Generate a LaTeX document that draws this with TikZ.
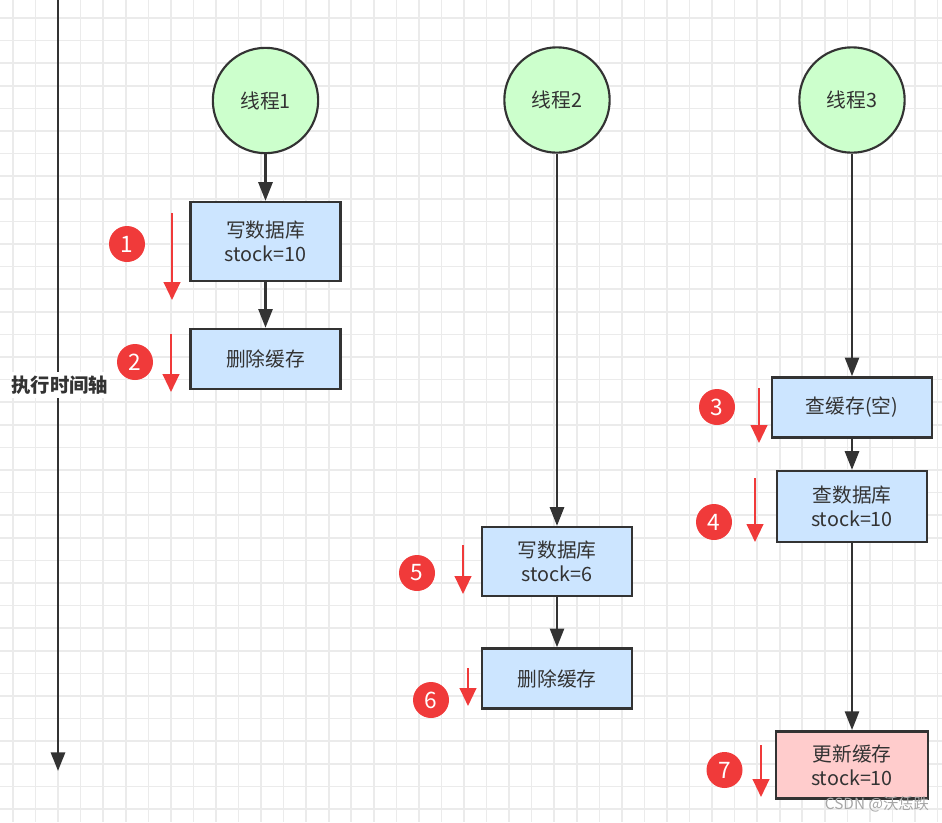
\documentclass[tikz,border=0pt]{standalone}
\usepackage{fontspec}
\setmainfont{Noto Sans CJK SC}
\usepackage{xcolor}
\usepackage{tikz}
\usetikzlibrary{arrows.meta}

\definecolor{gridgray}{HTML}{EBEBEB}
\definecolor{linedark}{HTML}{333333}
\definecolor{threadgreen}{HTML}{CCFFCC}
\definecolor{stepblue}{HTML}{CCE5FF}
\definecolor{steppink}{HTML}{FFCCCC}
\definecolor{markred}{HTML}{F03A3A}

\begin{document}
\begin{tikzpicture}[x=0.75pt, y=-0.75pt,
    txt/.style={font=\fontsize{14.8pt}{18pt}\selectfont, text=linedark},
    thread/.style={txt, circle, draw=linedark, line width=1.6pt, fill=threadgreen, minimum size=79pt, inner sep=0pt},
    op/.style={txt, rectangle, draw=linedark, line width=1.9pt, fill=stepblue, minimum width=112.5pt, minimum height=45pt, align=center, inner sep=2pt},
    flow/.style={-{Triangle[width=10.5pt, length=14pt]}, line width=1.9pt, draw=linedark},
    num/.style={circle, fill=markred, minimum size=27pt, inner sep=0pt, text=white, font=\fontsize{17pt}{18pt}\selectfont},
    cue/.style={-{Triangle[width=12.5pt, length=13.5pt]}, line width=1.6pt, draw=markred}]
    \useasboundingbox (0,0) rectangle (942,822);
    \begin{scope}
        \clip (0,0) rectangle (942,822);
        \foreach \i in {0,...,41}
            \draw[gridgray, line width=1.2pt] ({13+22.55*\i},0) -- ({13+22.55*\i},822);
        \foreach \j in {0,...,35}
            \draw[gridgray, line width=1.2pt] (0,{18+22.6*\j}) -- (942,{18+22.6*\j});
    \end{scope}

    % time axis
    \coordinate (axtop) at (58,0);
    \coordinate (axend) at (58,771);
    \draw[flow, line width=2.2pt] (axtop) -- (axend);
    \node[txt, fill=white, inner xsep=1pt, inner ysep=3pt, font=\fontsize{14.5pt}{18pt}\selectfont\bfseries] (axis) at (60,385) {执行时间轴};

    % threads
    \node[thread] (t1) at (265.5,100.5) {线程1};
    \node[thread] (t2) at (557,100) {线程2};
    \node[thread] (t3) at (852,100) {线程3};

    % steps
    \node[op, minimum height=59pt] (w1) at (265.5,241.5) {写数据库\\stock=10};
    \node[op] (d1) at (265.5,359) {删除缓存};
    \node[op, minimum width=120pt] (q1) at (852,407.5) {查缓存(空)};
    \node[op, minimum height=53pt] (q2) at (852,506.5) {查数据库\\stock=10};
    \node[op, minimum height=51.5pt] (w2) at (557,561.5) {写数据库\\stock=6};
    \node[op] (d2) at (557,678.5) {删除缓存};
    \node[op, fill=steppink, minimum width=114pt, minimum height=50.5pt] (u3) at (852,765) {更新缓存\\stock=10};

    \draw[flow] (t1) -- (w1);
    \draw[flow] (w1) -- (d1);
    \draw[flow] (t2) -- (w2);
    \draw[flow] (w2) -- (d2);
    \draw[flow] (t3) -- (q1);
    \draw[flow] (q1) -- (q2);
    \draw[flow] (q2) -- (u3);

    % order marks
    \node[num] (n1) at (127,244) {1};
    \node[num] (n2) at (135,362) {2};
    \node[num] (n3) at (717,407) {3};
    \node[num] (n4) at (714,522) {4};
    \node[num] (n5) at (417,573) {5};
    \node[num] (n6) at (431,700) {6};
    \node[num] (n7) at (724.5,770) {7};

    \coordinate (c1a) at (172,213); \coordinate (c1b) at (172,300);
    \coordinate (c2a) at (171,334); \coordinate (c2b) at (171,392);
    \coordinate (c3a) at (759,388); \coordinate (c3b) at (759,443);
    \coordinate (c4a) at (755,478); \coordinate (c4b) at (755,542);
    \coordinate (c5a) at (463,545); \coordinate (c5b) at (463,594);
    \coordinate (c6a) at (468,668); \coordinate (c6b) at (468,706);
    \coordinate (c7a) at (761,745); \coordinate (c7b) at (761,797);
    \draw[cue] (c1a) -- (c1b);
    \draw[cue] (c2a) -- (c2b);
    \draw[cue] (c3a) -- (c3b);
    \draw[cue] (c4a) -- (c4b);
    \draw[cue] (c5a) -- (c5b);
    \draw[cue] (c6a) -- (c6b);
    \draw[cue] (c7a) -- (c7b);

    \node[text=gray!70, font=\fontsize{11.5pt}{13pt}\selectfont] (wm) at (877,804) {CSDN @沃恁跌};
\end{tikzpicture}
\end{document}
